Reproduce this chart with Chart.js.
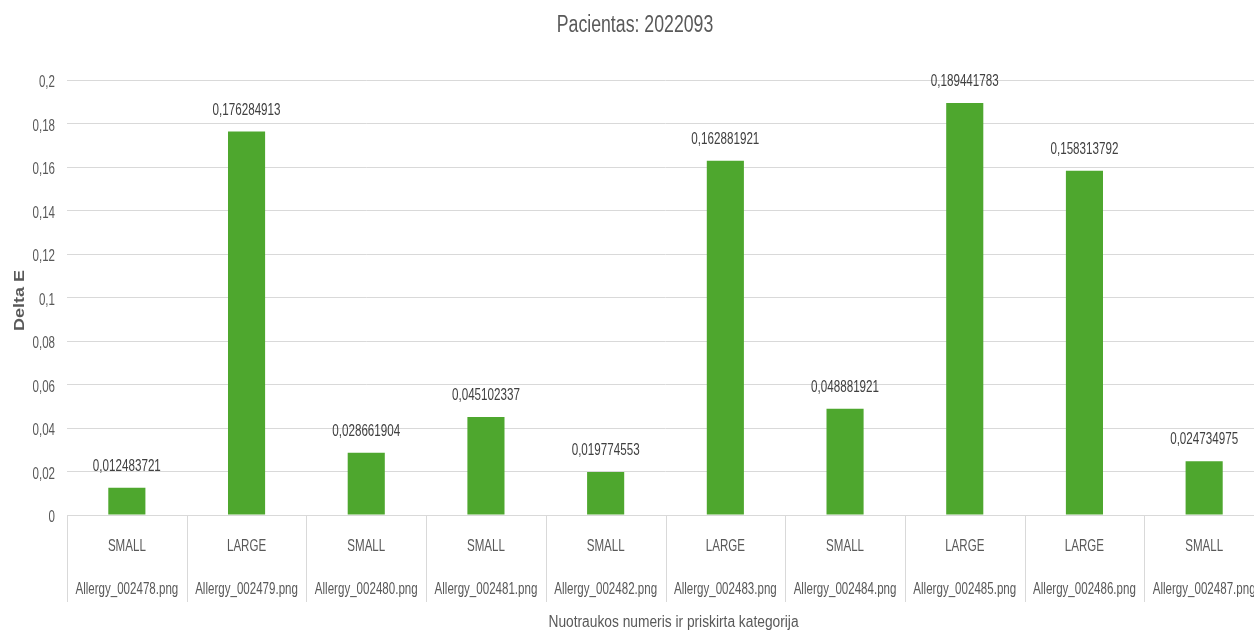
<!DOCTYPE html>
<html>
<head>
<meta charset="utf-8">
<title>Pacientas: 2022093</title>
<script src="https://cdn.jsdelivr.net/npm/chart.js@4"></script>
<style>
  html, body { margin: 0; padding: 0; background: #ffffff; overflow: hidden; }
  #wrap { width: 1264px; height: 632px; }
</style>
</head>
<body>
<div id="wrap"><canvas id="chart" width="1264" height="632"></canvas></div>
<script>
// Image files and the size category assigned to each
const fileNames = [
  'Allergy_002478.png', 'Allergy_002479.png', 'Allergy_002480.png', 'Allergy_002481.png',
  'Allergy_002482.png', 'Allergy_002483.png', 'Allergy_002484.png', 'Allergy_002485.png',
  'Allergy_002486.png', 'Allergy_002487.png'
];
const sizeCategories = ['SMALL', 'LARGE', 'SMALL', 'SMALL', 'SMALL', 'LARGE', 'SMALL', 'LARGE', 'LARGE', 'SMALL'];
const deltaE = [
  0.012483721, 0.176284913, 0.028661904, 0.045102337, 0.019774553,
  0.162881921, 0.048881921, 0.189441783, 0.158313792, 0.024734975
];
const yMin = 0;
const yMax = 0.2;
const yStep = 0.02;

const chartTitle = 'Pacientas: 2022093';
const xAxisTitle = 'Nuotraukos numeris ir priskirta kategorija';
const yAxisTitle = 'Delta E';

const FAMILY = "'Liberation Sans', Arial, sans-serif";
const TEXT_GREY = '#595959';
const LABEL_GREY = '#404040';
const LINE_GREY = '#d9d9d9';

// Decimal comma, as used in the Lithuanian locale
function lt(v) { return String(Number(Number(v).toFixed(9))).replace('.', ','); }

// Draw text in a narrow face: the regular font squeezed horizontally
function narrowText(ctx, text, x, y, opts) {
  ctx.save();
  ctx.font = (opts.weight || 'normal') + ' ' + opts.size + 'px ' + FAMILY;
  ctx.fillStyle = opts.color || TEXT_GREY;
  ctx.textAlign = opts.align || 'center';
  ctx.textBaseline = 'alphabetic';
  ctx.translate(x, y);
  ctx.scale(opts.squeeze, 1);
  if (opts.rotate) ctx.rotate(opts.rotate);
  ctx.fillText(text, 0, 0);
  ctx.restore();
}

// Value labels above each bar
const valueLabels = {
  id: 'valueLabels',
  afterDatasetsDraw(chart) {
    const meta = chart.getDatasetMeta(0);
    meta.data.forEach((bar, i) => {
      narrowText(chart.ctx, lt(chart.data.datasets[0].data[i]), bar.x, bar.y - 17,
        { size: 17, squeeze: 0.685, color: LABEL_GREY });
    });
  }
};

// Axis texts, category cells and titles
const axisTexts = {
  id: 'axisTexts',
  afterDraw(chart) {
    const ctx = chart.ctx;
    const x = chart.scales.x;
    const y = chart.scales.y;
    const area = chart.chartArea;

    // chart title
    narrowText(ctx, chartTitle, 635, 32, { size: 23, squeeze: 0.77 });

    // value axis tick labels
    y.ticks.forEach((t) => {
      const py = y.getPixelForValue(t.value);
      narrowText(ctx, lt(t.value), area.left - 12, py + 7, { size: 17, squeeze: 0.68, align: 'right' });
    });

    // value axis title
    narrowText(ctx, yAxisTitle, 24, (area.top + area.bottom) / 2 + 3,
      { size: 18, squeeze: 0.82, weight: 'bold', rotate: -Math.PI / 2 });

    // two-level category labels and the cell dividers between them
    const n = chart.data.labels.length;
    const step = n > 1 ? x.getPixelForValue(1) - x.getPixelForValue(0) : x.width;
    sizeCategories.forEach((c, i) => {
      const px = x.getPixelForValue(i);
      narrowText(ctx, c, px, area.bottom + 36, { size: 17, squeeze: 0.68 });
      narrowText(ctx, fileNames[i], px, area.bottom + 78.5, { size: 17, squeeze: 0.68 });
    });
    ctx.save();
    ctx.strokeStyle = LINE_GREY;
    ctx.lineWidth = 1;
    for (let i = 0; i <= n; i++) {
      const px = Math.round(x.getPixelForValue(0) - step / 2 + i * step) + 0.5;
      ctx.beginPath();
      ctx.moveTo(px, area.bottom);
      ctx.lineTo(px, area.bottom + 87);
      ctx.stroke();
    }
    ctx.restore();

    // category axis title
    narrowText(ctx, xAxisTitle, (area.left + area.right) / 2 + 8, 627, { size: 16, squeeze: 0.86 });
  }
};

new Chart(document.getElementById('chart'), {
  type: 'bar',
  data: {
    labels: fileNames,
    datasets: [{
      label: yAxisTitle,
      data: deltaE,
      backgroundColor: '#4ea72e',
      borderWidth: 0,
      categoryPercentage: 1,
      barPercentage: 0.31
    }]
  },
  options: {
    responsive: false,
    animation: false,
    devicePixelRatio: 1,
    layout: { padding: { top: 80, left: 0, right: 0, bottom: 0 } },
    plugins: {
      legend: { display: false },
      tooltip: { enabled: false },
      title: { display: false }
    },
    scales: {
      x: {
        grid: { display: false, drawTicks: false },
        border: { display: true, color: LINE_GREY, width: 1 },
        ticks: { display: false },
        afterFit(scale) { scale.height = 117; }
      },
      y: {
        min: yMin,
        max: yMax,
        grid: { color: LINE_GREY, lineWidth: 1, drawTicks: false },
        border: { display: false },
        ticks: { display: false, stepSize: yStep },
        afterFit(scale) { scale.width = 67; }
      }
    }
  },
  plugins: [valueLabels, axisTexts]
});
</script>
</body>
</html>
